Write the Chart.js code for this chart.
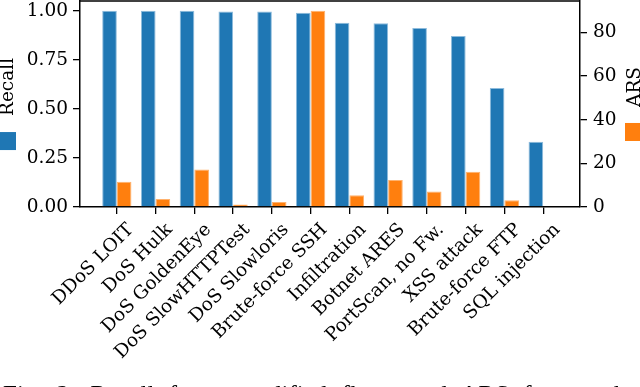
<!DOCTYPE html>
<html>
<head>
<meta charset="utf-8">
<script src="https://cdn.jsdelivr.net/npm/chart.js@4.4.0/dist/chart.umd.min.js"></script>
<style>
	body { margin: 0; background: #fff; }
	#wrap { position: relative; width: 640px; height: 387px; overflow: hidden; }
	#caption {
		position: absolute; left: 3px; top: 382px; white-space: nowrap;
		font: 25px "Liberation Serif", serif; line-height: 25px; word-spacing: 8px; color: #000;
	}
</style>
</head>
<body>
<div id="wrap">
	<canvas id="chart" width="640" height="387"></canvas>
	<div id="caption">Fig. 2: Recall for unmodified flows and ARS for attacks</div>
</div>
<script>
const categories = [
	"DDoS LOIT", "DoS Hulk", "DoS GoldenEye", "DoS SlowHTTPTest", "DoS Slowloris",
	"Brute-force SSH", "Infiltration", "Botnet ARES", "PortScan, no Fw.",
	"XSS attack", "Brute-force FTP", "SQL injection"
];
const recall_values = [1.0, 1.0, 1.0, 0.997, 0.997, 0.99, 0.939, 0.937, 0.913, 0.872, 0.606, 0.332];
const ars_values = [11.6, 3.7, 17.2, 1.2, 2.3, 89.9, 5.4, 12.4, 7.1, 16.1, 3.1, 0];
const recall_ticks = [0, 0.25, 0.5, 0.75, 1.0];
const ars_ticks = [0, 20, 40, 60, 80];

const blue = "#1f77b4";
const orange = "#ff7f0e";
const tick_font = { family: "DejaVu Serif", size: 18.5 };

// rotated axis label with a coloured square in front of it
function draw_side_label(ctx, x, cy, text, color) {
	ctx.save();
	ctx.translate(x, cy);
	ctx.rotate(-Math.PI / 2);
	ctx.font = "18.5px 'DejaVu Serif'";
	let w = ctx.measureText(text).width;
	let sq = 18, gap = 16;
	let start = -(sq + gap + w) / 2;
	ctx.fillStyle = color;
	ctx.fillRect(start, -9, sq, sq);
	ctx.fillStyle = "#000";
	ctx.textBaseline = "middle";
	ctx.textAlign = "left";
	ctx.fillText(text, start + sq + gap, 1);
	ctx.restore();
}

const frame_plugin = {
	id: "frame",
	afterDraw(chart) {
		let ctx = chart.ctx;
		let area = chart.chartArea;
		ctx.save();
		ctx.strokeStyle = "#000";
		ctx.lineWidth = 1.5;
		ctx.beginPath();
		ctx.moveTo(area.left, area.top);
		ctx.lineTo(area.right, area.top);
		ctx.stroke();
		ctx.restore();
		let cy = (area.top + area.bottom) / 2;
		draw_side_label(ctx, area.left - 73, cy, "Recall", blue);
		draw_side_label(ctx, area.right + 54, cy, "ARS", orange);
	},
};

function no_padding(scale) {
	scale.paddingTop = 0;
	scale.paddingBottom = 0;
	scale.paddingLeft = 0;
	scale.paddingRight = 0;
}

let ctx = document.getElementById("chart").getContext("2d");
let myChart = new Chart(ctx, {
	type: "bar",
	data: {
		datasets: [
			{
				label: "Recall",
				data: recall_values.map((v, i) => ({ x: i, y: v })),
				backgroundColor: blue,
				borderColor: "#8dbbdc",
				borderWidth: 1,
				yAxisID: "y",
			},
			{
				label: "ARS",
				data: ars_values.map((v, i) => ({ x: i, y: v })),
				backgroundColor: orange,
				borderColor: "#ffb26e",
				borderWidth: 1,
				yAxisID: "y2",
			},
		],
	},
	options: {
		responsive: false,
		animation: false,
		categoryPercentage: 0.755,
		barPercentage: 1.0,
		layout: { padding: { top: 1, left: 0, right: 0, bottom: 0 } },
		plugins: { legend: { display: false }, tooltip: { enabled: false } },
		scales: {
			x: {
				type: "linear",
				min: -0.95,
				max: 11.95,
				offset: false,
				grid: { drawOnChartArea: false, offset: false, tickLength: 7, color: "#000", lineWidth: 1.3 },
				border: { color: "#000", width: 1.5 },
				ticks: {
					stepSize: 1,
					includeBounds: false,
					autoSkip: false,
					minRotation: 45,
					maxRotation: 45,
					padding: 5,
					labelOffset: 14,
					color: "#000",
					font: tick_font,
					callback: function (value) {
						let label = categories[Math.round(value)];
						return label === undefined ? "" : label;
					},
				},
				afterFit: function (scale) {
					scale.height = 180;
					no_padding(scale);
				},
			},
			y: {
				position: "left",
				min: 0,
				max: 1.05,
				grid: { drawOnChartArea: false, tickLength: 7, color: "#000", lineWidth: 1.3 },
				border: { color: "#000", width: 1.5 },
				afterBuildTicks: function (scale) { scale.ticks = recall_ticks.map((v) => ({ value: v })); },
				ticks: {
					padding: 5,
					color: "#000",
					font: tick_font,
					callback: function (value) { return value.toFixed(2); },
				},
				afterFit: function (scale) {
					scale.width = 80;
					no_padding(scale);
				},
			},
			y2: {
				position: "right",
				min: 0,
				max: 94.4,
				grid: { drawOnChartArea: false, tickLength: 7, color: "#000", lineWidth: 1.3 },
				border: { color: "#000", width: 1.5 },
				afterBuildTicks: function (scale) { scale.ticks = ars_ticks.map((v) => ({ value: v })); },
				ticks: {
					padding: 6,
					color: "#000",
					font: tick_font,
				},
				afterFit: function (scale) {
					scale.width = 60;
					no_padding(scale);
				},
			},
		},
	},
	plugins: [frame_plugin],
});
</script>
</body>
</html>
